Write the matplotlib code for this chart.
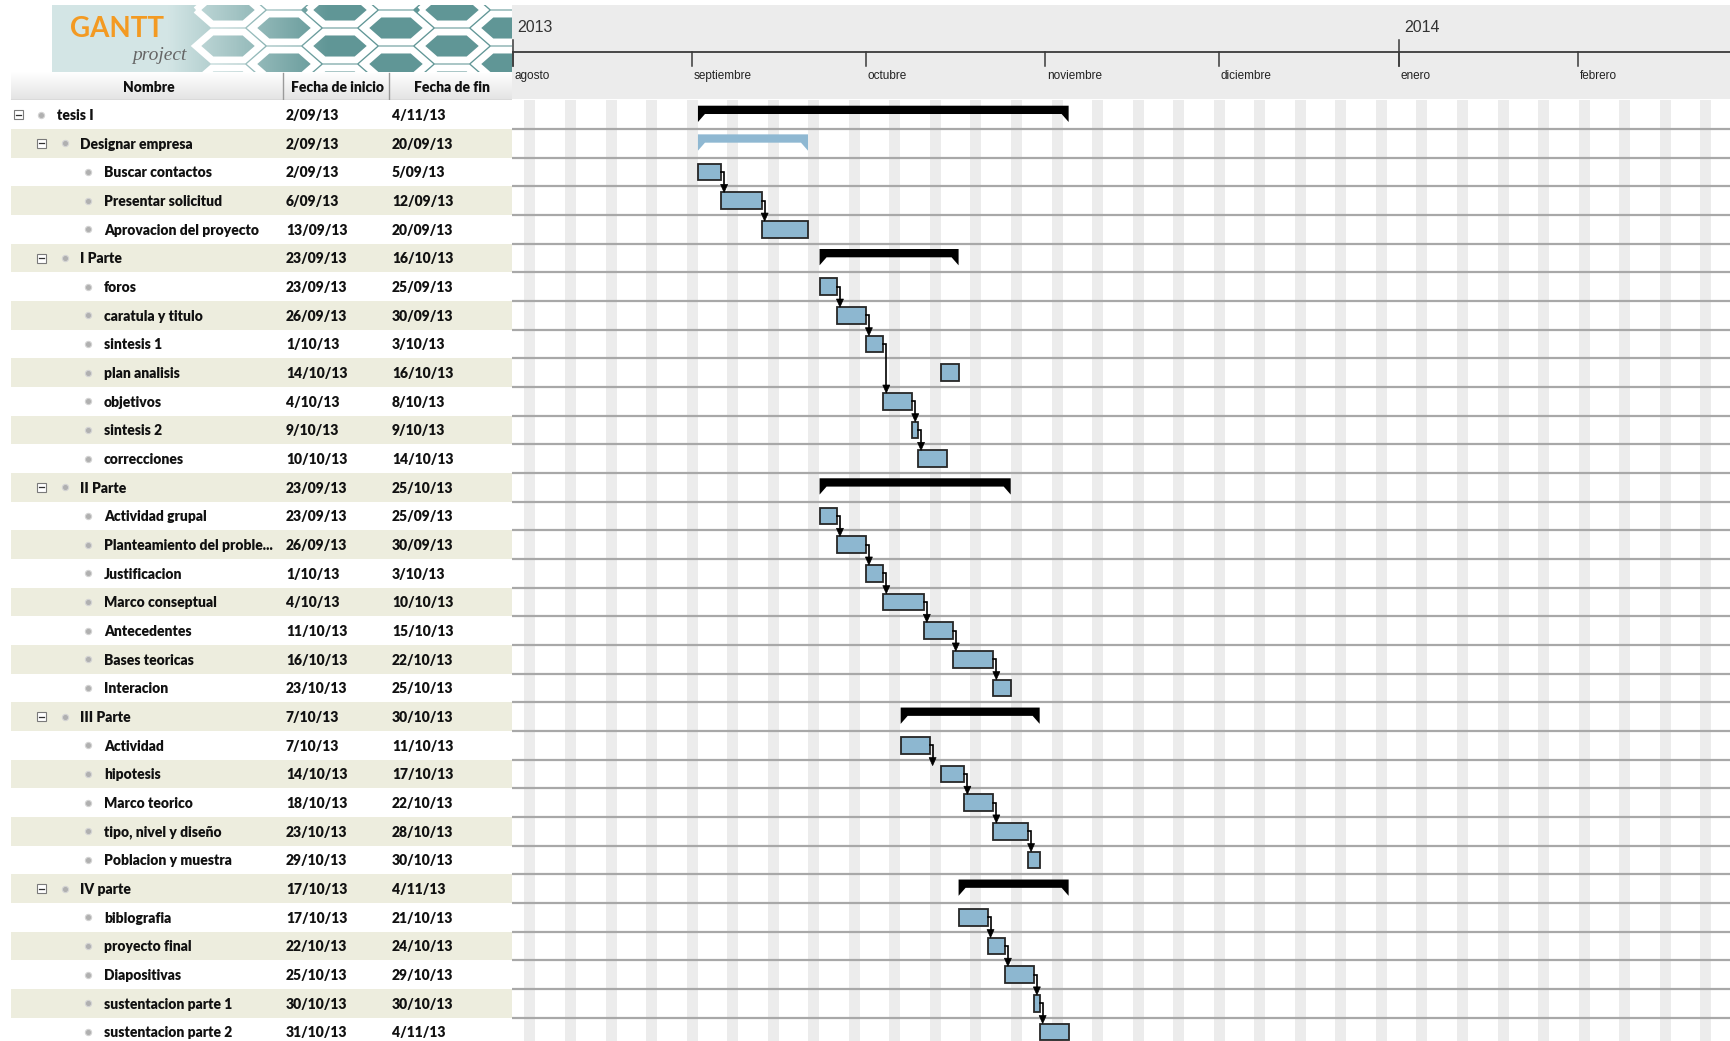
import matplotlib
matplotlib.use('Agg')
import matplotlib.pyplot as plt
import matplotlib.dates as mdates
from matplotlib.patches import Rectangle, Polygon
from matplotlib import font_manager
import numpy as np
from datetime import datetime, timedelta

# ---------------- data ----------------
task_names = ["tesis I", "Designar empresa", "Buscar contactos", "Presentar solicitud",
              "Aprovacion del proyecto", "I Parte", "foros", "caratula y titulo", "sintesis 1",
              "plan analisis", "objetivos", "sintesis 2", "correcciones", "II Parte",
              "Actividad grupal", "Planteamiento del proble...", "Justificacion", "Marco conseptual",
              "Antecedentes", "Bases teoricas", "Interacion", "III Parte", "Actividad", "hipotesis",
              "Marco teorico", "tipo, nivel y diseño", "Poblacion y muestra", "IV parte",
              "biblografia", "proyecto final", "Diapositivas", "sustentacion parte 1",
              "sustentacion parte 2"]
task_levels = [0, 1, 2, 2, 2, 1, 2, 2, 2, 2, 2, 2, 2, 1, 2, 2, 2, 2, 2, 2, 2,
               1, 2, 2, 2, 2, 2, 1, 2, 2, 2, 2, 2]
start_dates = ["2/09/13", "2/09/13", "2/09/13", "6/09/13", "13/09/13", "23/09/13", "23/09/13",
               "26/09/13", "1/10/13", "14/10/13", "4/10/13", "9/10/13", "10/10/13", "23/09/13",
               "23/09/13", "26/09/13", "1/10/13", "4/10/13", "11/10/13", "16/10/13", "23/10/13",
               "7/10/13", "7/10/13", "14/10/13", "18/10/13", "23/10/13", "29/10/13", "17/10/13",
               "17/10/13", "22/10/13", "25/10/13", "30/10/13", "31/10/13"]
end_dates = ["4/11/13", "20/09/13", "5/09/13", "12/09/13", "20/09/13", "16/10/13", "25/09/13",
             "30/09/13", "3/10/13", "16/10/13", "8/10/13", "9/10/13", "14/10/13", "25/10/13",
             "25/09/13", "30/09/13", "3/10/13", "10/10/13", "15/10/13", "22/10/13", "25/10/13",
             "30/10/13", "11/10/13", "17/10/13", "22/10/13", "28/10/13", "30/10/13", "4/11/13",
             "21/10/13", "24/10/13", "29/10/13", "30/10/13", "4/11/13"]
dependencies = [(2, 3), (3, 4), (6, 7), (7, 8), (8, 10), (10, 11), (11, 12),
                (14, 15), (15, 16), (16, 17), (17, 18), (18, 19), (19, 20),
                (22, 23), (23, 24), (24, 25), (25, 26),
                (28, 29), (29, 30), (30, 31), (31, 32)]
column_headers = ["Nombre", "Fecha de inicio", "Fecha de fin"]
month_labels = ["agosto", "septiembre", "octubre", "noviembre", "diciembre", "enero", "febrero"]
month_starts = ["1/08/13", "1/09/13", "1/10/13", "1/11/13", "1/12/13", "1/01/14", "1/02/14"]
year_labels = ["2013", "2014"]
year_starts = ["1/08/13", "1/01/14"]
view_start_date = "1/08/13"


# ---------------- fonts ----------------
def _has(name, min_weight=0):
    for f in font_manager.fontManager.ttflist:
        if f.name == name:
            w = f.weight
            if isinstance(w, str):
                w = font_manager.weight_dict.get(w, 400)
            if w >= min_weight:
                return True
    return False


WT = 'bold'
if _has('Liberation Sans Narrow', 600):
    FONT_T, SZ_T = ['Liberation Sans Narrow', 'DejaVu Sans'], 11
elif _has('Lato', 600):
    FONT_T, SZ_T, WT = ['Lato', 'DejaVu Sans'], 10.0, 'heavy'
elif _has('Roboto', 600):
    FONT_T, SZ_T = ['Roboto', 'DejaVu Sans'], 9.6
else:
    FONT_T, SZ_T = ['Liberation Sans', 'DejaVu Sans'], 9.5
if _has('Liberation Sans Narrow'):
    FONT_H, SZ_M, SZ_Y = ['Liberation Sans Narrow', 'DejaVu Sans'], 10, 14
else:
    FONT_H, SZ_M, SZ_Y = ['Liberation Sans', 'DejaVu Sans'], 8.5, 11.5

# ---------------- layout ----------------
W, H, DPI = 1731, 1041, 100
fig = plt.figure(figsize=(W / DPI, H / DPI), dpi=DPI)
fig.patch.set_facecolor('white')


def px_ax(x0, y0, x1, y1):
    a = fig.add_axes([x0 / W, 1 - y1 / H, (x1 - x0) / W, (y1 - y0) / H])
    a.axis('off')
    return a


def parse(s):
    return datetime.strptime(s, '%d/%m/%y')


starts = [mdates.date2num(parse(s)) for s in start_dates]
ends = [mdates.date2num(parse(s) + timedelta(days=1)) for s in end_dates]
n = len(task_names)

ROW_TOP, ROW_H = 100.4, 28.66
y_bottom = -0.5 + (H - ROW_TOP) / ROW_H
PX_DAY = 5.792
LEFT = 512
vs = mdates.date2num(parse(view_start_date))
x0 = vs + (LEFT - 512.6) / PX_DAY
x1 = x0 + (W - LEFT) / PX_DAY

# ---------------- chart area ----------------
ax = px_ax(LEFT, ROW_TOP, W, H)
ax.set_xlim(x0, x1)
ax.set_ylim(y_bottom, -0.5)

d = parse(view_start_date) - timedelta(days=7)
while mdates.date2num(d) < x1:
    if d.weekday() == 5:
        dn = mdates.date2num(d)
        ax.axvspan(dn + 0.05, dn + 1.95, color='#ececec', lw=0, zorder=0)
    d += timedelta(days=1)
for i in range(n):
    ax.axhline(i + 0.5, color='#a8a8a8', lw=1.6, zorder=1)

tip_dx = 7 / PX_DAY
for i in range(n):
    xs, xe = starts[i], ends[i]
    if task_levels[i] < 2:
        col = '#8fb8d2' if task_names[i] == "Designar empresa" else 'black'
        top, mid, tip = i - 0.315, i - 0.025, i + 0.254
        poly = [(xs, top), (xe, top), (xe, tip), (xe - tip_dx, mid), (xs + tip_dx, mid), (xs, tip)]
        ax.add_patch(Polygon(poly, closed=True, fc=col, ec='none', zorder=3))
    else:
        ax.add_patch(Rectangle((xs, i - 0.29), xe - xs, 0.58, fc='#8db7d0', ec='#262626',
                               lw=1.3, zorder=3))

stub = 3 / PX_DAY
head_w = 3.5 / PX_DAY
head_h = 8 / ROW_H
for p, q in dependencies:
    xe = ends[p]
    xv = xe + stub
    ytop = q - 0.29
    ax.plot([xe, xv, xv], [p, p, ytop - head_h], color='black', lw=1.2, zorder=4,
            solid_joinstyle='miter')
    ax.add_patch(Polygon([(xv - head_w, ytop - head_h), (xv + head_w, ytop - head_h), (xv, ytop)],
                         closed=True, fc='black', ec='black', lw=0.5, zorder=4))

# ---------------- task table ----------------
tb = px_ax(0, ROW_TOP, LEFT, H)
tb.set_xlim(0, LEFT)
tb.set_ylim(y_bottom, -0.5)
exp_x = [19, 42]
dot_x = [41, 65, 88]
txt_x = [57, 80, 104]
for i in range(n):
    if i % 2 == 1:
        tb.add_patch(Rectangle((11, i - 0.5), LEFT - 11, 1, fc='#ededde', lw=0, zorder=0))
    lv = task_levels[i]
    if lv < 2:
        ex = exp_x[lv]
        hh = 4.5 / ROW_H
        tb.add_patch(Rectangle((ex - 4.5, i - hh), 9, 2 * hh, fc='white', ec='#7a7a7a', lw=0.8, zorder=2))
        tb.plot([ex - 2.5, ex + 2.5], [i, i], color='#303030', lw=0.9, zorder=3)
    tb.plot(dot_x[lv], i, 'o', ms=4.5, mfc='#b0b0b0', mec='#d4d4d4', mew=0.8, zorder=2)
    kw = dict(fontsize=SZ_T, fontweight=WT, family=FONT_T, va='center', ha='left',
              color='#111111')
    tb.text(txt_x[lv], i + 0.03, task_names[i], **kw)
    tb.text(286, i + 0.03, start_dates[i], **kw)
    tb.text(392, i + 0.03, end_dates[i], **kw)

# ---------------- logo + column header ----------------
lg = px_ax(0, 0, LEFT, ROW_TOP)
lg.set_xlim(0, LEFT)
lg.set_ylim(ROW_TOP, 0)
LX0, LX1, LY0, LY1 = 52, 512, 5, 73
t = np.linspace(0, 1, 300)
c_light = np.array([0.83, 0.90, 0.90])
c_dark = np.array([0.38, 0.59, 0.59])
w = np.clip((t - 0.25) / 0.35, 0, 1)
grad = (c_light[None, :] * (1 - w[:, None]) + c_dark[None, :] * w[:, None])[None, :, :]
lg.imshow(grad, extent=(LX0, LX1, LY1, LY0), aspect='auto', zorder=1)
clip = Rectangle((LX0, LY0), LX1 - LX0, LY1 - LY0, transform=lg.transData, fc='none', ec='none')
lg.add_patch(clip)
a_h, b_h = 32, 14
for col in range(0, 9):
    cx = 228 + col * (1.5 * a_h + 8)
    off = (b_h + 4) if col % 2 else 0
    for row in range(-1, 3):
        cy = 10 + row * (2 * b_h + 8) + off
        verts = [(cx - a_h, cy), (cx - a_h / 2, cy - b_h), (cx + a_h / 2, cy - b_h),
                 (cx + a_h, cy), (cx + a_h / 2, cy + b_h), (cx - a_h / 2, cy + b_h)]
        hp = Polygon(verts, closed=True, fc='none', ec='white', lw=5, zorder=2, joinstyle='miter')
        lg.add_patch(hp)
        hp.set_clip_path(clip)
lg.text(70, 29, "GANTT", color='#f39a22', fontsize=20, fontweight='bold',
        family=['Lato', 'DejaVu Sans'], va='center', ha='left', zorder=3)
lg.text(132, 55, "project", color='#666666', fontsize=14, style='italic',
        family=['Liberation Serif', 'DejaVu Serif'], va='center', ha='left', zorder=3)

hg = np.linspace(1.0, 0.89, 50)[:, None, None] * np.ones((1, 1, 3))
lg.imshow(hg, extent=(11, LEFT, 100.4, 73), aspect='auto', zorder=1)
lg.plot([11, LEFT], [100, 100], color='#b8b8b8', lw=1, zorder=2)
for sx in (283.5, 389.5):
    lg.plot([sx, sx], [73, 100], color='#9a9a9a', lw=1, zorder=2)
for cx, lab in zip((149, 338, 452), column_headers):
    lg.text(cx, 87, lab, fontsize=SZ_T, fontweight=WT, family=FONT_T, va='center',
            ha='center', color='#111111', zorder=3)

# ---------------- timeline header ----------------
th = px_ax(LEFT, 0, W, ROW_TOP)
th.set_xlim(x0, x1)
th.set_ylim(ROW_TOP, 0)
th.add_patch(Rectangle((x0, 5), x1 - x0, 94, fc='#ececec', lw=0, zorder=0))
th.plot([x0, x1], [52, 52], color='#3a3a3a', lw=1.3, zorder=2)
for lab, ms in zip(month_labels, month_starts):
    m = mdates.date2num(parse(ms))
    th.plot([m, m], [52, 66], color='#3a3a3a', lw=1.1, zorder=2)
    th.text(m + 1.5 / PX_DAY, 76, lab, fontsize=SZ_M, family=FONT_H, va='center', ha='left',
            color='#222222', zorder=3)
for lab, ys in zip(year_labels, year_starts):
    y = mdates.date2num(parse(ys))
    th.plot([y, y], [40, 66], color='#3a3a3a', lw=1.1, zorder=2)
    th.text(y + 5 / PX_DAY, 27, lab, fontsize=SZ_Y, family=FONT_H, va='center', ha='left',
            color='#333333', zorder=3)

fig.savefig('out.png', dpi=DPI, facecolor='white')
